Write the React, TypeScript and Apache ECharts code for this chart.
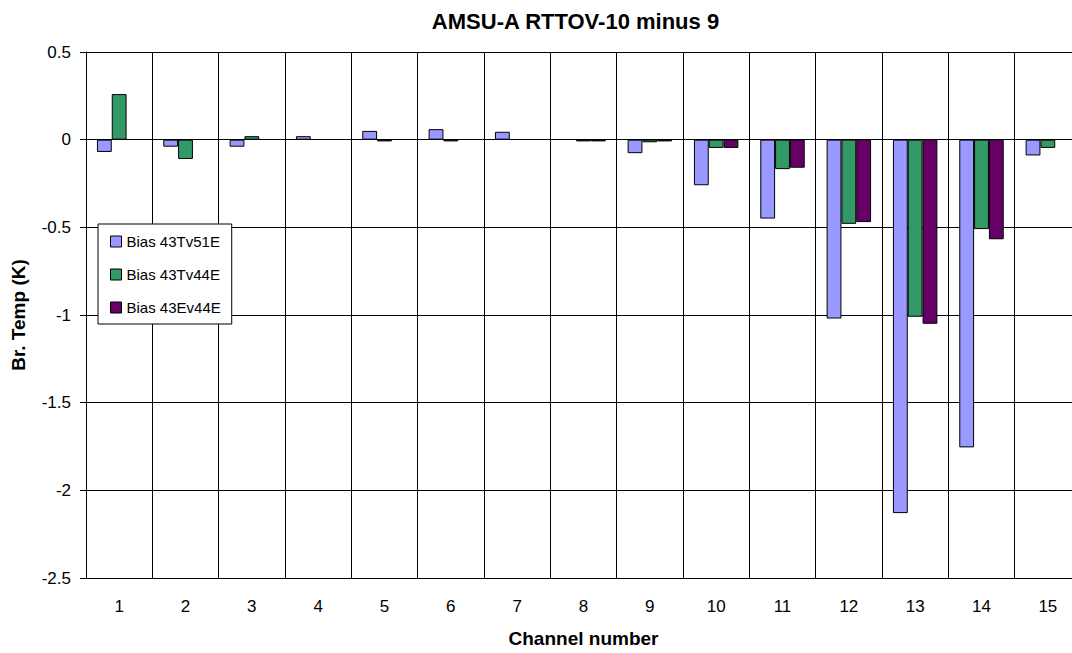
import React, { useEffect, useRef } from "react";
import * as echarts from "echarts";

const channels = ["1", "2", "3", "4", "5", "6", "7", "8", "9", "10", "11", "12", "13", "14", "15"];
const bias43Tv51E = [-0.07, -0.04, -0.04, 0.02, 0.05, 0.06, 0.045, null, -0.077, -0.26, -0.45, -1.02, -2.13, -1.755, -0.09];
const bias43Tv44E = [0.26, -0.11, 0.02, null, -0.01, -0.01, null, -0.01, -0.015, -0.047, -0.168, -0.48, -1.01, -0.51, -0.047];
const bias43Ev44E = [null, null, null, null, null, null, null, -0.01, -0.01, -0.047, -0.16, -0.47, -1.05, -0.568, null];
const seriesNames = ["Bias 43Tv51E", "Bias 43Tv44E", "Bias 43Ev44E"];
const seriesColors = ["#9999FF", "#339966", "#660066"];
const yTicks = { min: -2.5, max: 0.5, interval: 0.5 };

const FONT = "'Liberation Sans', Arial, sans-serif";

export default function App() {
  const ref = useRef<HTMLDivElement>(null);
  useEffect(() => {
    if (!ref.current) return;
    document.body.style.overflow = "hidden";
    document.body.style.margin = "0";
    const chart = echarts.init(ref.current, null, { renderer: "svg" });
    const datas = [bias43Tv51E, bias43Tv44E, bias43Ev44E];
    chart.setOption({
      animation: false,
      backgroundColor: "#fff",
      textStyle: { fontFamily: FONT, color: "#000" },
      graphic: [
        {
          type: "text",
          x: 575.5,
          y: 21,
          style: {
            text: "AMSU-A RTTOV-10 minus 9",
            fontFamily: FONT,
            fontSize: 22,
            fontWeight: "bold",
            fill: "#000",
            align: "center",
            verticalAlign: "middle",
          },
        },
      ],
      grid: { left: 86, top: 52, right: 0, bottom: 70, containLabel: false },
      legend: {
        orient: "vertical",
        left: 98,
        top: 224,
        padding: [10, 11, 9, 12],
        backgroundColor: "#fff",
        borderColor: "#000",
        borderWidth: 1,
        borderRadius: 0,
        itemWidth: 11,
        itemHeight: 11,
        itemGap: 18,
        itemTextGap: 4,
        icon: "rect",
        itemStyle: { borderColor: "#000", borderWidth: 1 },
        textStyle: { fontFamily: FONT, fontSize: 15, color: "#000" },
        data: seriesNames,
      },
      xAxis: {
        type: "category",
        data: channels,
        name: "Channel number",
        nameLocation: "middle",
        nameGap: 51,
        nameTextStyle: { fontFamily: FONT, fontSize: 19, fontWeight: "bold", color: "#000" },
        axisLine: { onZero: false, lineStyle: { color: "#000", width: 1 } },
        axisTick: { show: false },
        axisLabel: { fontFamily: FONT, fontSize: 17, color: "#000", margin: 20 },
        splitLine: { show: true, lineStyle: { color: "#000", width: 1 } },
      },
      yAxis: {
        type: "value",
        min: yTicks.min,
        max: yTicks.max,
        interval: yTicks.interval,
        name: "Br. Temp (K)",
        nameLocation: "middle",
        nameGap: 58,
        nameTextStyle: { fontFamily: FONT, fontSize: 19, fontWeight: "bold", color: "#000" },
        axisLine: { show: true, lineStyle: { color: "#000", width: 1 } },
        axisTick: { show: true, length: 6, lineStyle: { color: "#000" } },
        axisLabel: { fontFamily: FONT, fontSize: 17, color: "#000", margin: 15 },
        splitLine: { show: true, lineStyle: { color: "#000", width: 1 } },
      },
      series: seriesNames.map((name, i) => ({
        name,
        type: "bar",
        data: datas[i],
        barGap: "0%",
        barCategoryGap: "33%",
        itemStyle: { color: seriesColors[i], borderColor: "#000", borderWidth: 1 },
      })),
    });
    return () => chart.dispose();
  }, []);
  return (
    <div style={{ position: "absolute", left: 0, top: 0, width: 1072, height: 653, overflow: "hidden", background: "#fff" }}>
      <div ref={ref} style={{ width: 1081, height: 653 }} />
    </div>
  );
}
